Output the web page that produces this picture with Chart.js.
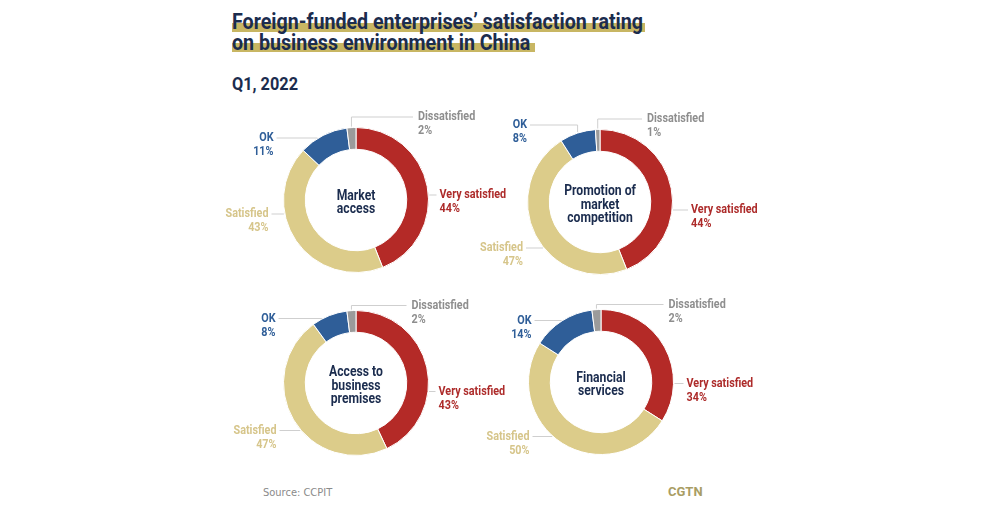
<!DOCTYPE html>
<html>
<head>
<meta charset="utf-8">
<script src="https://cdn.jsdelivr.net/npm/chart.js@4.4.1/dist/chart.umd.min.js"></script>
<style>
  html, body { margin: 0; padding: 0; background: #fff; }
  body { width: 987px; height: 517px; position: relative; overflow: hidden; font-family: Roboto, sans-serif; }
  .hl { position: absolute; background: #c8b663; }
  .title { position: absolute; left: 232px; top: 11px; font-size: 21.5px; line-height: 21px; font-weight: bold; color: #1b2c4e; white-space: nowrap; }
  .title span { display: inline-block; transform-origin: left center; }
  .sub { position: absolute; left: 232px; top: 74px; font-size: 19px; line-height: 19px; font-weight: bold; color: #1b2c4e; white-space: nowrap; transform-origin: left center; }
  .src { position: absolute; left: 263px; top: 486px; font-size: 11px; color: #8a8a8a; font-family: "DejaVu Sans Condensed", sans-serif; }
  .logo { position: absolute; left: 668px; top: 484px; font-size: 13px; font-weight: bold; color: #a99d64; font-family: Roboto, sans-serif; }
  canvas { position: absolute; }
</style>
</head>
<body>
<div class="hl" style="left:232px;top:23px;width:413px;height:9px;"></div>
<div class="hl" style="left:232px;top:43px;width:303px;height:9px;"></div>
<div class="title"><span id="t1">Foreign-funded enterprises’ satisfaction rating</span><br><span id="t2">on business environment in China</span></div>
<div class="sub" id="sub">Q1, 2022</div>
<div class="src">Source: CCPIT</div>
<div class="logo">CGTN</div>

<canvas id="c1" width="360" height="180"></canvas>
<canvas id="c2" width="360" height="180"></canvas>
<canvas id="c3" width="360" height="180"></canvas>
<canvas id="c4" width="360" height="180"></canvas>

<script>
// ---- data ----
const categories = ['Very satisfied', 'Satisfied', 'OK', 'Dissatisfied'];
const panelNames = [['Market', 'access'], ['Promotion of', 'market', 'competition'], ['Access to', 'business', 'premises'], ['Financial', 'services']];
const marketAccess = [44, 43, 11, 2];
const marketCompetition = [44, 47, 8, 1];
const businessPremises = [43, 47, 8, 2];
const financialServices = [34, 50, 14, 2];

const colors = ['#b42a27', '#dccc8a', '#2f5e98', '#9b9b9b'];
const textColors = ['#ad2b2a', '#d6c58a', '#2f5e98', '#8e8e8e'];

// ---- layout (centres of each ring, label offsets from the centre) ----
const panels = [
  { id: 'c1', values: marketAccess, cx: 355.5, cy: 200,
    labels: [{ dx: 83.5, dy: -5, mode: 'h' }, { dx: -87.5, dy: 14, mode: 'h' }, { dx: -82.5, dy: -62, mode: 'h' }, { dx: 62, dy: -83, mode: 'up' }] },
  { id: 'c2', values: marketCompetition, cx: 600, cy: 202,
    labels: [{ dx: 91, dy: 8, mode: 'h' }, { dx: -77, dy: 46, mode: 'h' }, { dx: -73, dy: -77, mode: 'down' }, { dx: 47, dy: -83, mode: 'up' }] },
  { id: 'c3', values: businessPremises, cx: 355.5, cy: 382.5,
    labels: [{ dx: 82.5, dy: 8.5, mode: 'h' }, { dx: -79.5, dy: 47.5, mode: 'h' }, { dx: -80.5, dy: -64.5, mode: 'h' }, { dx: 55.5, dy: -77.5, mode: 'up' }] },
  { id: 'c4', values: financialServices, cx: 600.5, cy: 381.5,
    labels: [{ dx: 85.5, dy: 1.5, mode: 'h' }, { dx: -71.5, dy: 54.5, mode: 'h' }, { dx: -69.5, dy: -61.5, mode: 'h' }, { dx: 67.5, dy: -77.5, mode: 'up' }] }
];

const LABEL_FONT = 'bold 13px Roboto, sans-serif';
const CENTER_FONT = 'bold 14.5px Roboto, sans-serif';
const SQUEEZE = 0.83;   // the original face is a narrow DIN-like font

// draw text horizontally condensed around its anchor
function narrowText(ctx, txt, x, y, align, sx) {
  ctx.save();
  ctx.translate(x, y);
  ctx.scale(sx || SQUEEZE, 1);
  ctx.textAlign = align;
  ctx.fillText(txt, 0, 0);
  ctx.restore();
}

const calloutPlugin = {
  id: 'callouts',
  afterDraw(chart, args, opts) {
    const ctx = chart.ctx;
    const meta = chart.getDatasetMeta(0);
    const data = chart.data.datasets[0].data;
    const arc0 = meta.data[0];
    const cx = arc0.x, cy = arc0.y, R = arc0.outerRadius;
    ctx.save();
    // centre name
    ctx.fillStyle = '#1b2c4e';
    ctx.font = CENTER_FONT;
    ctx.textBaseline = 'middle';
    const lines = opts.name;
    const lh = 13.5;
    lines.forEach((l, i) => narrowText(ctx, l, cx, cy + 3 + (i - (lines.length - 1) / 2) * lh, 'center', 0.84));

    // callouts
    ctx.font = LABEL_FONT;
    opts.labels.forEach((lab, i) => {
      const arc = meta.data[i];
      const mid = (arc.startAngle + arc.endAngle) / 2;
      const px = cx + Math.cos(mid) * R, py = cy + Math.sin(mid) * R;
      const lx = cx + lab.dx, ly = cy + lab.dy;
      const right = lab.dx > 0;
      ctx.strokeStyle = '#cfcfcf';
      ctx.lineWidth = 1;
      ctx.beginPath();
      if (lab.mode === 'up') {
        ctx.moveTo(px, py - 1); ctx.lineTo(px, ly); ctx.lineTo(lx - 5, ly);
      } else if (lab.mode === 'down') {
        ctx.moveTo(lx + 3, ly); ctx.lineTo(px, ly); ctx.lineTo(px, py - 1);
      } else {
        const ex = Math.sqrt(Math.max(R * R - lab.dy * lab.dy, 0));
        const x0 = right ? cx + ex + 1 : cx - ex - 1;
        ctx.moveTo(x0, ly); ctx.lineTo(right ? lx - 3 : lx + 3, ly);
      }
      ctx.stroke();
      ctx.fillStyle = textColors[i];
      ctx.textBaseline = 'middle';
      const align = right ? 'left' : 'right';
      narrowText(ctx, chart.data.labels[i], lx, ly, align);
      narrowText(ctx, data[i] + '%', lx, ly + 14, align);
    });
    ctx.restore();
  }
};

const CW = 360, CH = 180, D = 146;
panels.forEach((p, k) => {
  const el = document.getElementById(p.id);
  el.style.left = (p.cx - CW / 2) + 'px';
  el.style.top = (p.cy - CH / 2) + 'px';
  new Chart(el, {
    type: 'doughnut',
    data: {
      labels: categories,
      datasets: [{ data: p.values, backgroundColor: colors, borderColor: '#ffffff', borderWidth: 1 }]
    },
    options: {
      responsive: false,
      animation: false,
      cutout: '70%',
      layout: { padding: { left: (CW - D) / 2, right: (CW - D) / 2, top: (CH - D) / 2, bottom: (CH - D) / 2 } },
      plugins: {
        legend: { display: false },
        tooltip: { enabled: false },
        callouts: { name: panelNames[k], labels: p.labels }
      }
    },
    plugins: [calloutPlugin]
  });
});

// squeeze title text to the reference width
function fit(el, target) {
  const w = el.getBoundingClientRect().width;
  if (w > 0) el.style.transform = 'scaleX(' + (target / w) + ')';
  return target / w;
}
const s = fit(document.getElementById('t1'), 411);
document.getElementById('t2').style.transform = 'scaleX(' + s + ')';
fit(document.getElementById('sub'), 66);
</script>
</body>
</html>
